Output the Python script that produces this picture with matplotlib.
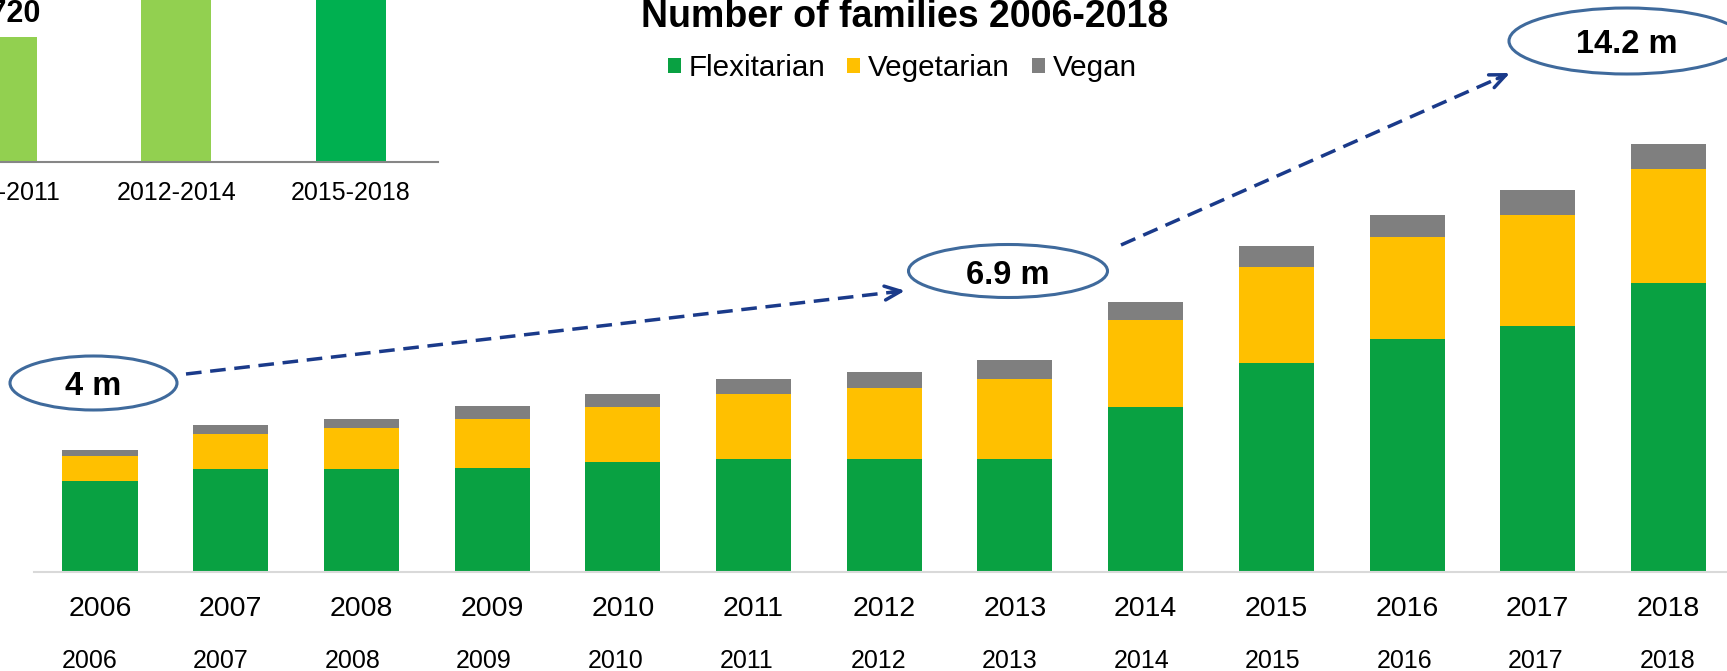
import matplotlib
matplotlib.use("Agg")
import matplotlib.pyplot as plt
from matplotlib.patches import Ellipse, FancyArrowPatch
from matplotlib.lines import Line2D

plt.rcParams['font.family'] = ['Liberation Sans', 'DejaVu Sans']

# main chart data (million families)
years = ['2006', '2007', '2008', '2009', '2010', '2011', '2012',
         '2013', '2014', '2015', '2016', '2017', '2018']
flexitarian = [3.02, 3.43, 3.43, 3.44, 3.65, 3.75, 3.74, 3.74, 5.48, 6.92, 7.73, 8.15, 9.60]
vegetarian = [0.83, 1.14, 1.34, 1.64, 1.83, 2.16, 2.37, 2.67, 2.88, 3.19, 3.39, 3.69, 3.78]
vegan = [0.20, 0.31, 0.31, 0.42, 0.42, 0.51, 0.51, 0.62, 0.61, 0.71, 0.72, 0.83, 0.82]

# inset chart (cut off at the top left)
periods = ['2006-2011', '2012-2014', '2015-2018']
period_vals = [1720, 2600, 3400]
period_colors = ['#92D050', '#92D050', '#00B050']

callouts = ['4 m', '6.9 m', '14.2 m']

W, H = 1727, 671
fig = plt.figure(figsize=(W / 100, H / 100), dpi=100)

def fx(px):
    return px / W

def fy(py):
    return 1 - py / H

# main axes
base = 572
step = 130.7
ppm = 30.14
ax = fig.add_axes([fx(34), fy(base), (W - 34) / W, base / H])
x = list(range(len(years)))
bw = 75 / step
bot2 = [a + b for a, b in zip(flexitarian, vegetarian)]
b1 = ax.bar(x, flexitarian, bw, color='#09A142', label='Flexitarian')
b2 = ax.bar(x, vegetarian, bw, bottom=flexitarian, color='#FFC000', label='Vegetarian')
b3 = ax.bar(x, vegan, bw, bottom=bot2, color='#7F7F7F', label='Vegan')
ax.set_xlim((34 - 100) / step, (W - 100) / step)
ax.set_ylim(0, base / ppm)
for s in ['top', 'left', 'right']:
    ax.spines[s].set_visible(False)
ax.spines['bottom'].set_color('#D9D9D9')
ax.spines['bottom'].set_linewidth(1.5)
ax.set_yticks([])
ax.set_xticks(x, labels=years)
ax.tick_params(axis='x', length=0, pad=17, labelsize=20.5)

# second row of year labels
for i, yr in enumerate(years):
    ax.text(-0.08 + 1.006 * i, (base - 668) / ppm, yr, ha='center', va='baseline',
            fontsize=18, clip_on=False)

# title and legend
fig.text(fx(905), fy(27), 'Number of families 2006-2018', ha='center', va='baseline',
         fontsize=27, fontweight='bold')
fig.legend([b1, b2, b3], ['Flexitarian', 'Vegetarian', 'Vegan'], loc='center',
           bbox_to_anchor=(fx(902), fy(68)), ncol=3, frameon=False,
           fontsize=21.3, handlelength=0.45, handleheight=0.45, handletextpad=0.25,
           columnspacing=0.75, borderpad=0, borderaxespad=0)

# inset axes, partly outside the figure
ax2 = fig.add_axes([fx(-85), fy(162), 522.7 / W, 162 / H])
ax2.bar(range(3), period_vals, 70 / 174, color=period_colors)
ax2.set_xlim(-0.5, 2.5)
ax2.set_ylim(0, 162 * period_vals[0] / 125)
for s in ['top', 'left', 'right']:
    ax2.spines[s].set_visible(False)
ax2.spines['bottom'].set_color('#868686')
ax2.spines['bottom'].set_linewidth(1.5)
ax2.set_yticks([])
ax2.set_xticks(range(3), labels=periods)
ax2.tick_params(axis='x', length=0, pad=14, labelsize=18)
ax2.text(0, 140 * period_vals[0] / 125, '1,720', ha='center', va='baseline',
         fontsize=22, fontweight='bold', clip_on=False)

# call-out ellipses
ell = [(93.5, 383, 167, 54, 395), (1008, 271, 199, 53, 284), (1627, 41, 236, 66, 53)]
for (cx, cy, w, h, tb), txt in zip(ell, callouts):
    fig.add_artist(Ellipse((fx(cx), fy(cy)), w / W, h / H, transform=fig.transFigure,
                           facecolor='none', edgecolor='#3F6A9C', lw=2.2))
    fig.text(fx(cx), fy(tb), txt, ha='center', va='baseline', fontsize=23.5,
             fontweight='bold')

# dashed arrows
arrows = [((186, 374), (905, 290.7)), ((1121, 245), (1510, 73))]
for (x0, y0), (x1, y1) in arrows:
    fig.add_artist(Line2D([fx(x0), fx(x1 - 4)], [fy(y0), fy(y1 + 4 * (y0 - y1) / (x1 - x0))],
                          transform=fig.transFigure, color='#1A3A8A', lw=2.5,
                          ls=(0, (4.5, 2.5))))
    k = 14 / ((x1 - x0) ** 2 + (y1 - y0) ** 2) ** 0.5
    fig.add_artist(FancyArrowPatch((fx(x1 - k * (x1 - x0)), fy(y1 - k * (y1 - y0))),
                                   (fx(x1), fy(y1)), transform=fig.transFigure,
                                   arrowstyle='->,head_length=1.15,head_width=0.5',
                                   mutation_scale=10, color='#1A3A8A', lw=2.5,
                                   shrinkA=0, shrinkB=0))

fig.savefig('out.png', dpi=100)
